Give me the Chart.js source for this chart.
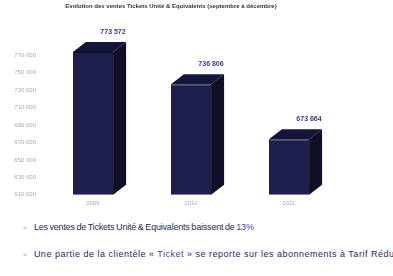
<!DOCTYPE html>
<html>
<head>
<meta charset="utf-8">
<script src="https://cdn.jsdelivr.net/npm/chart.js@4.4.0/dist/chart.umd.min.js"></script>
<style>
  body { margin: 0; background: #fff; width: 393px; height: 276px; overflow: hidden; position: relative; }
  .chart-box { position: absolute; left: 0; top: 0; width: 393px; height: 214px; }
  .notes { position: absolute; left: 0; top: 222px; width: 440px; font-family: "Liberation Sans Narrow", "Arial Narrow", sans-serif; font-size: 9px; color: #27275f; white-space: nowrap; }
  .notes p { margin: 0 0 17px 22px; }
  .notes p.first { letter-spacing: -0.2px; word-spacing: -0.6px; }
  .notes p.second { letter-spacing: 0.5px; }
  .notes .mark { color: #8fb4e3; font-family: "DejaVu Sans", sans-serif; font-size: 7px; margin-right: 6px; letter-spacing: 0; }
  .notes .hl { color: #4a3f9e; }
</style>
</head>
<body>
<div class="chart-box"><canvas class="main-canvas"></canvas></div>
<div class="notes">
  <p class="first"><span class="mark">&#10146;</span>Les ventes de Tickets Unité &amp; Equivalents baissent de <span class="hl">13%</span></p>
  <p class="second"><span class="mark">&#10146;</span>Une partie de la clientèle « <span class="hl">Ticket</span> » se reporte sur les abonnements à Tarif Réduit</p>
</div>
<script>
const titleText = "Evolution des ventes Tickets Unité & Equivalents (septembre à décembre)";
const periods = ["2009", "2010", "2011"];
const sales = [773572, 736806, 673664];
const yTicks = [610000, 630000, 650000, 670000, 690000, 710000, 730000, 750000, 770000];

const DX = 13, DY = 10;

const fmt = (v) => v.toLocaleString("fr-FR").replace(/\s/g, " ");

const bar3d = {
  id: "bar3d",
  afterDatasetsDraw(chart) {
    const ctx = chart.ctx;
    const meta = chart.getDatasetMeta(0);
    meta.data.forEach((bar, i) => {
      const l = bar.x - bar.width / 2, r = bar.x + bar.width / 2;
      const t = bar.y, b = bar.base;
      ctx.save();
      // top face
      ctx.fillStyle = "#15153a";
      ctx.beginPath();
      ctx.moveTo(l, t);
      ctx.lineTo(l + DX, t - DY);
      ctx.lineTo(r + DX, t - DY);
      ctx.lineTo(r, t);
      ctx.closePath();
      ctx.fill();
      // side face
      ctx.fillStyle = "#0e0e28";
      ctx.beginPath();
      ctx.moveTo(r, t);
      ctx.lineTo(r + DX, t - DY);
      ctx.lineTo(r + DX, b - DY);
      ctx.lineTo(r, b);
      ctx.closePath();
      ctx.fill();
      // value label
      ctx.fillStyle = "#3b3b8f";
      ctx.font = "bold 7px 'Liberation Sans Narrow', sans-serif";
      ctx.textAlign = "center";
      ctx.textBaseline = "middle";
      ctx.fillText(fmt(sales[i]), bar.x + 20, t - 20);
      ctx.restore();
    });
  }
};

const ctx = document.querySelector(".main-canvas").getContext("2d");

new Chart(ctx, {
  type: "bar",
  data: {
    labels: periods,
    datasets: [
      {
        data: sales,
        base: 610000,
        backgroundColor: "#1e1e4f",
        borderColor: "#0b0b22",
        borderWidth: 1,
        categoryPercentage: 1,
        barPercentage: 0.41,
        clip: false,
      },
    ],
  },
  options: {
    responsive: true,
    maintainAspectRatio: false,
    animation: false,
    layout: { padding: { left: 4, right: 55, top: 0, bottom: 2 } },
    plugins: {
      legend: { display: false },
      tooltip: { enabled: false },
      title: {
        display: true,
        text: titleText,
        color: "#333",
        font: { size: 6, weight: "bold", family: "'Liberation Sans Narrow', sans-serif" },
        padding: { top: 3, bottom: 45 },
      },
    },
    scales: {
      x: {
        grid: { display: false, drawTicks: false },
        border: { display: false },
        ticks: {
          color: "#aaa",
          padding: 5,
          font: { size: 6, family: "'Liberation Sans', sans-serif" },
        },
      },
      y: {
        min: 610000,
        max: 770000,
        afterBuildTicks: (scale) => {
          scale.ticks = yTicks.map((v) => ({ value: v }));
        },
        afterFit: (scale) => {
          scale.width = 40;
        },
        grid: { display: false, drawTicks: false },
        border: { display: false },
        ticks: {
          color: "#aaa",
          padding: 8,
          font: { size: 6, family: "'Liberation Sans', sans-serif" },
          callback: (v) => fmt(v),
        },
      },
    },
  },
  plugins: [bar3d],
});
</script>
</body>
</html>
